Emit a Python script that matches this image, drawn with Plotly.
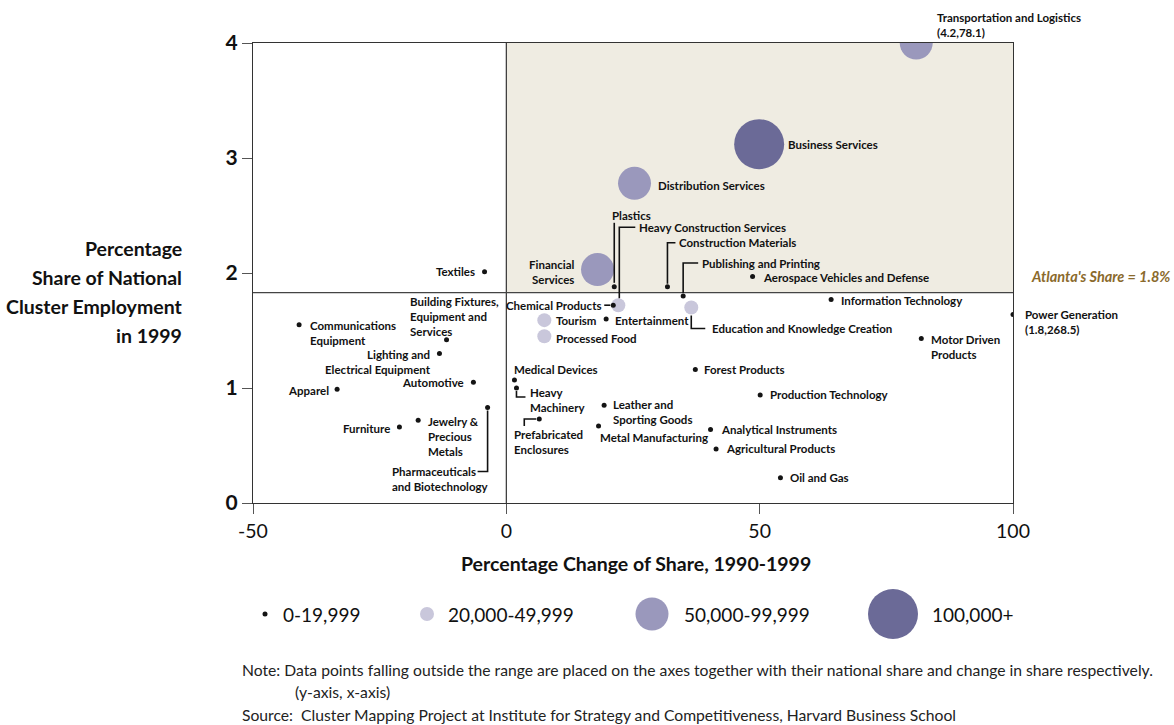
import plotly.graph_objects as go

# ---------------- data ----------------
clusters = [
    "Transportation and Logistics", "Business Services", "Distribution Services",
    "Financial Services", "Plastics", "Heavy Construction Services", "Chemical Products",
    "Construction Materials", "Publishing and Printing", "Aerospace Vehicles and Defense",
    "Education and Knowledge Creation", "Information Technology", "Tourism",
    "Processed Food", "Entertainment", "Motor Driven Products", "Power Generation",
    "Textiles", "Communications Equipment", "Building Fixtures, Equipment and Services",
    "Lighting and Electrical Equipment", "Automotive", "Apparel",
    "Pharmaceuticals and Biotechnology", "Jewelry & Precious Metals", "Furniture",
    "Medical Devices", "Heavy Machinery", "Prefabricated Enclosures",
    "Leather and Sporting Goods", "Metal Manufacturing", "Forest Products",
    "Production Technology", "Analytical Instruments", "Agricultural Products",
    "Oil and Gas",
]
pct_change = [80.9, 49.9, 25.3, 18.0, 21.3, 22.1, 21.1, 31.8, 34.9, 48.6,
              36.5, 64.1, 7.5, 7.5, 19.7, 81.9, 100.0, -4.3, -40.9, -11.8,
              -13.2, -6.5, -33.4, -3.7, -17.4, -21.1, 1.6, 2.0, 6.5,
              19.3, 18.2, 37.3, 50.1, 40.3, 41.4, 54.1]
natl_share = [4.0, 3.12, 2.78, 2.03, 1.88, 1.72, 1.72, 1.88, 1.80, 1.97,
              1.70, 1.77, 1.59, 1.45, 1.60, 1.43, 1.64, 2.01, 1.55, 1.42,
              1.30, 1.05, 0.99, 0.83, 0.72, 0.66, 1.07, 1.00, 0.73,
              0.85, 0.67, 1.16, 0.94, 0.64, 0.47, 0.22]
# employment class: 0 = 0-19,999, 1 = 20,000-49,999, 2 = 50,000-99,999, 3 = 100,000+
size_class = [2, 3, 2, 2, 0, 1, 0, 0, 0, 0,
              1, 0, 1, 1, 0, 0, 0, 0, 0, 0,
              0, 0, 0, 0, 0, 0, 0, 0, 0,
              0, 0, 0, 0, 0, 0, 0]
size_labels = ["0-19,999", "20,000-49,999", "50,000-99,999", "100,000+"]
atlanta_share = 1.83
x_ticks = [-50, 0, 50, 100]
y_ticks = [0, 1, 2, 3, 4]

label_text = {
    "Transportation and Logistics": "Transportation and Logistics<br>(4.2,78.1)",
    "Financial Services": "Financial<br>Services",
    "Motor Driven Products": "Motor Driven<br>Products",
    "Power Generation": "Power Generation<br>(1.8,268.5)",
    "Communications Equipment": "Communications<br>Equipment",
    "Building Fixtures, Equipment and Services": "Building Fixtures,<br>Equipment and<br>Services",
    "Lighting and Electrical Equipment": "Lighting and<br>Electrical Equipment",
    "Pharmaceuticals and Biotechnology": "Pharmaceuticals<br>and Biotechnology",
    "Jewelry & Precious Metals": "Jewelry &<br>Precious<br>Metals",
    "Heavy Machinery": "Heavy<br>Machinery",
    "Prefabricated Enclosures": "Prefabricated<br>Enclosures",
    "Leather and Sporting Goods": "Leather and<br>Sporting Goods",
}

# ---------------- layout / style constants ----------------
W, H = 1174, 725
PL, PR, PT, PB = 253, 1013, 43, 503  # plot box in pixels
size_px = [5, 14, 33, 50]
colors = ["#141414", "#c9c7db", "#9a98bc", "#6b6a97"]
FONT = "Lato, Roboto, sans-serif"
LBL = 11.5

# label placement: (xshift, yshift, xanchor, align) in pixels relative to point
placement = {
    "Transportation and Logistics": (19, 18, "left", "left"),
    "Business Services": (27, 0, "left", "left"),
    "Distribution Services": (21, -2, "left", "left"),
    "Financial Services": (-21, -2, "right", "right"),
    "Plastics": (-4, 71, "left", "left"),
    "Heavy Construction Services": (19, 78, "left", "left"),
    "Chemical Products": (-10, 0, "right", "right"),
    "Construction Materials": (10, 44, "left", "left"),
    "Publishing and Printing": (17, 33, "left", "left"),
    "Aerospace Vehicles and Defense": (8, -1, "left", "left"),
    "Education and Knowledge Creation": (19, -21, "left", "left"),
    "Information Technology": (8, -1, "left", "left"),
    "Tourism": (10, 0, "left", "left"),
    "Processed Food": (10, -2, "left", "left"),
    "Entertainment": (7, -1, "left", "left"),
    "Motor Driven Products": (8, -8, "left", "left"),
    "Power Generation": (10, -8, "left", "left"),
    "Textiles": (-8, 0, "right", "right"),
    "Communications Equipment": (9, -8, "left", "left"),
    "Building Fixtures, Equipment and Services": (-39, 23, "left", "left"),
    "Lighting and Electrical Equipment": (-6, -8, "right", "right"),
    "Automotive": (-7, 0, "right", "right"),
    "Apparel": (-6, -1, "right", "right"),
    "Pharmaceuticals and Biotechnology": (-98, -71, "left", "left"),
    "Jewelry & Precious Metals": (8, -16, "left", "left"),
    "Furniture": (-7, -1, "right", "right"),
    "Medical Devices": (-2, 10, "left", "left"),
    "Heavy Machinery": (12, -12, "left", "left"),
    "Prefabricated Enclosures": (-27, -23, "left", "left"),
    "Leather and Sporting Goods": (7, -7, "left", "left"),
    "Metal Manufacturing": (-1, -12, "left", "left"),
    "Forest Products": (7, 0, "left", "left"),
    "Production Technology": (8, 0, "left", "left"),
    "Analytical Instruments": (8, 0, "left", "left"),
    "Agricultural Products": (8, 0, "left", "left"),
    "Oil and Gas": (8, 0, "left", "left"),
}
# leader lines (pixel paths relative to point, y up)
leaders = {
    "Plastics": "M 0 4 L 0 64",
    "Heavy Construction Services": "M 1 7 L 1 78 L 17 78",
    "Chemical Products": "M -9 0 L -3 0",
    "Construction Materials": "M 0 3 L 0 44 L 8 44",
    "Publishing and Printing": "M 0 3 L 0 33 L 15 33",
    "Education and Knowledge Creation": "M 0 -8 L 0 -21 L 14 -21",
    "Pharmaceuticals and Biotechnology": "M 0 -3 L 0 -64 L -10 -64",
    "Heavy Machinery": "M 0 -3 L 0 -9 L 9 -9",
    "Prefabricated Enclosures": "M -3 0 L -15 0 L -15 -7",
}

fig = go.Figure()

# bubbles, largest class first
for c in [3, 2, 1, 0]:
    idx = [i for i, s in enumerate(size_class) if s == c]
    fig.add_trace(go.Scatter(
        x=[pct_change[i] for i in idx], y=[natl_share[i] for i in idx],
        mode="markers", text=[clusters[i] for i in idx],
        marker=dict(size=size_px[c], color=colors[c], opacity=1, line=dict(width=0)),
        showlegend=False, hoverinfo="text",
    ))

# legend on pixel-coordinate overlay axis
leg_x = [265, 427, 652, 893]
leg_text_x = [281, 446, 682, 930]
leg_y = 614
fig.add_trace(go.Scatter(
    x=leg_x, y=[leg_y] * 4, mode="markers", xaxis="x2", yaxis="y2",
    marker=dict(size=size_px, color=colors, opacity=1, line=dict(width=0)),
    showlegend=False, hoverinfo="skip",
))

annotations = []
shapes = []

# highlight quadrant
shapes.append(dict(type="rect", xref="x", yref="y", x0=0, x1=x_ticks[-1], y0=atlanta_share,
                   y1=y_ticks[-1], fillcolor="#efece2", line=dict(width=0), layer="below"))
shapes.append(dict(type="line", xref="x", yref="y", x0=0, x1=0, y0=y_ticks[0], y1=y_ticks[-1],
                   line=dict(color="#333333", width=1.2), layer="below"))
shapes.append(dict(type="line", xref="x", yref="y", x0=x_ticks[0], x1=x_ticks[-1],
                   y0=atlanta_share, y1=atlanta_share,
                   line=dict(color="#444444", width=1.2), layer="below"))

for i, name in enumerate(clusters):
    xs, ys, xa, al = placement[name]
    annotations.append(dict(
        x=pct_change[i], y=natl_share[i], xref="x", yref="y",
        text=label_text.get(name, name), showarrow=False,
        xanchor=xa, yanchor="middle", align=al, xshift=xs, yshift=ys,
        font=dict(family=FONT, size=LBL, color="#111111", weight="bold"),
    ))
    if name in leaders:
        shapes.append(dict(type="path", xref="x", yref="y", xsizemode="pixel", ysizemode="pixel",
                           xanchor=pct_change[i], yanchor=natl_share[i], path=leaders[name],
                           line=dict(color="#111111", width=1.6)))

# Atlanta label
annotations.append(dict(
    x=1029, y=atlanta_share, xref="x2", yref="y", yshift=16, xanchor="left", yanchor="middle",
    text="<i>Atlanta's Share = 1.8%</i>", showarrow=False,
    font=dict(family=FONT, size=14.5, color="#8a6a2c", weight="bold")))

# axis titles
for txt, yy in zip(["Percentage", "Share of National", "Cluster Employment", "in 1999"],
                   [248, 277, 306, 335]):
    annotations.append(dict(x=184, y=yy, xref="x2", yref="y2", text=txt, showarrow=False,
                            xanchor="right", yanchor="middle",
                            font=dict(family=FONT, size=19.5, color="#111111", weight="bold")))
annotations.append(dict(x=636, y=563, xref="x2", yref="y2",
                        text="Percentage Change of Share, 1990-1999", showarrow=False,
                        xanchor="center", yanchor="middle",
                        font=dict(family=FONT, size=19.5, color="#111111", weight="bold")))

# legend labels
for tx, lab in zip(leg_text_x, size_labels):
    annotations.append(dict(x=tx, y=leg_y, xref="x2", yref="y2", text=lab, showarrow=False,
                            xanchor="left", yanchor="middle",
                            font=dict(family=FONT, size=19, color="#111111")))

# notes
notes = [
    (240, 670, "Note: Data points falling outside the range are placed on the axes together with their national share and change in share respectively."),
    (293, 692, "(y-axis, x-axis)"),
    (240, 715, "Source:  Cluster Mapping Project at Institute for Strategy and Competitiveness, Harvard Business School"),
]
for nx, ny, nt in notes:
    annotations.append(dict(x=nx, y=ny, xref="x2", yref="y2", text=nt, showarrow=False,
                            xanchor="left", yanchor="middle",
                            font=dict(family=FONT, size=15.7, color="#222222")))

fig.update_layout(
    width=W, height=H, margin=dict(l=0, r=0, t=0, b=0, pad=0, autoexpand=False),
    paper_bgcolor="white", plot_bgcolor="rgba(0,0,0,0)",
    showlegend=False,
    xaxis=dict(domain=[PL / W, PR / W], range=[x_ticks[0], x_ticks[-1]],
               tickvals=x_ticks, ticktext=[str(v) for v in x_ticks],
               ticks="outside", ticklen=10, tickcolor="#555555", tickwidth=1,
               showline=True, linecolor="#333333", linewidth=1.2, mirror=True,
               showgrid=False, zeroline=False, automargin=False,
               tickfont=dict(family=FONT, size=19.5, color="#111111")),
    yaxis=dict(domain=[1 - PB / H, 1 - PT / H], range=[y_ticks[0], y_ticks[-1]],
               tickvals=y_ticks, ticks="outside", ticklen=10, tickcolor="#555555", tickwidth=1,
               showline=True, linecolor="#333333", linewidth=1.2, mirror=True,
               showgrid=False, zeroline=False, automargin=False,
               tickfont=dict(family=FONT, size=21, color="#111111", weight="bold")),
    xaxis2=dict(domain=[0, 1], range=[0, W], visible=False, anchor="y2", automargin=False),
    yaxis2=dict(domain=[0, 1], range=[H, 0], visible=False, anchor="x2", automargin=False),
    annotations=annotations, shapes=shapes,
)

fig.write_html("out.html", config={"displayModeBar": False},
               post_script="document.body.style.margin='0';")
